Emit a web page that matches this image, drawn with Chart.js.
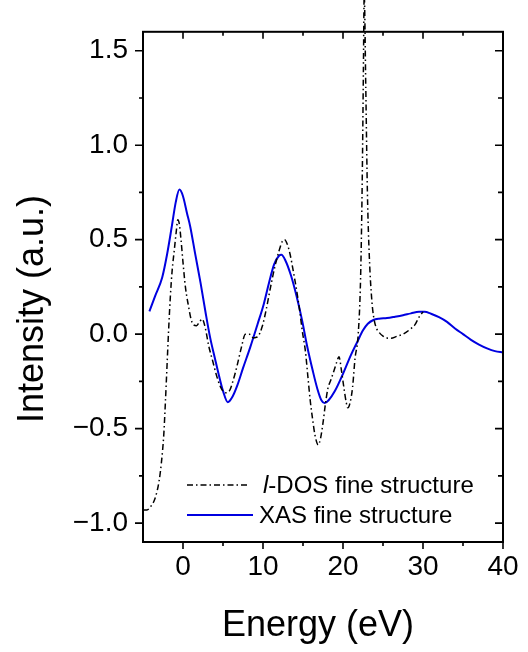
<!DOCTYPE html>
<html>
<head>
<meta charset="utf-8">
<script src="https://cdn.jsdelivr.net/npm/chart.js@4/dist/chart.umd.min.js"></script>
<style>
  html, body { margin: 0; padding: 0; background: #ffffff; }
  #wrap { width: 528px; height: 652px; }
</style>
</head>
<body>
<div id="wrap"><canvas id="c" width="528" height="652"></canvas></div>
<script>
// ---- data ----
const ldosX = [-5, -4.5, -4.0, -3.5, -3.0, -2.7, -2.4, -2.2, -2.0, -1.8, -1.58, -1.35, -1.1, -0.85, -0.65, -0.45, -0.25, 0.0, 0.3, 0.7, 1.0, 1.3, 1.7, 2.0, 2.4, 2.8, 3.2, 3.7, 4.2, 4.7, 5.3, 5.8, 6.3, 6.8, 7.3, 7.8, 8.3, 8.8, 9.3, 9.9, 10.4, 10.9, 11.5, 12.0, 12.4, 12.7, 13.0, 13.4, 13.8, 14.25, 14.6, 14.9, 15.3, 15.6, 15.9, 16.2, 16.5, 16.9, 17.2, 17.5, 17.8, 18.1, 18.5, 18.9, 19.2, 19.5, 19.8, 20.1, 20.4, 20.6, 20.9, 21.2, 21.5, 21.9, 22.2, 22.4, 22.55, 22.65, 22.85, 23.05, 23.3, 23.6, 23.8, 24.1, 24.5, 25.0, 25.5, 26.0, 26.75, 27.5, 28.4, 29.0, 29.5, 30.0];
const ldosY = [-0.93, -0.93, -0.91, -0.87, -0.78, -0.68, -0.53, -0.36, -0.17, 0.02, 0.20, 0.34, 0.44, 0.54, 0.605, 0.58, 0.50, 0.38, 0.25, 0.145, 0.08, 0.05, 0.045, 0.06, 0.08, 0.03, -0.06, -0.14, -0.22, -0.28, -0.31, -0.30, -0.24, -0.16, -0.07, 0.0, 0.0, -0.02, -0.015, 0.04, 0.13, 0.24, 0.36, 0.44, 0.49, 0.50, 0.48, 0.42, 0.33, 0.22, 0.12, 0.02, -0.09, -0.22, -0.35, -0.45, -0.535, -0.586, -0.55, -0.47, -0.37, -0.29, -0.24, -0.19, -0.15, -0.12, -0.19, -0.28, -0.36, -0.39, -0.36, -0.28, -0.13, 0.0, 0.30, 0.80, 1.40, 1.80, 1.30, 0.75, 0.40, 0.18, 0.10, 0.04, 0.01, -0.01, -0.02, -0.022, -0.011, 0.0, 0.026, 0.05, 0.09, 0.118];

const xasX = [-4.2, -3.5, -2.6, -2.0, -1.4, -0.9, -0.45, 0.0, 0.5, 0.9, 1.5, 2.2, 2.8, 3.4, 4.0, 4.5, 5.0, 5.6, 6.2, 6.8, 7.5, 8.4, 9.3, 10.1, 10.8, 11.4, 12.0, 12.3, 12.8, 13.5, 14.2, 14.9, 15.5, 16.2, 16.8, 17.3, 17.7, 18.2, 19.0, 20.0, 21.0, 21.8, 22.5, 23.1, 23.8, 24.5, 25.5, 26.5, 27.5, 28.5, 29.5, 30.2, 31.0, 32.0, 33.0, 34.0, 35.0, 36.0, 37.0, 38.0, 39.0, 40.0];
const xasY = [0.12, 0.20, 0.30, 0.42, 0.57, 0.70, 0.765, 0.73, 0.64, 0.57, 0.43, 0.27, 0.12, -0.02, -0.13, -0.22, -0.30, -0.36, -0.33, -0.27, -0.18, -0.07, 0.05, 0.16, 0.28, 0.37, 0.415, 0.42, 0.39, 0.31, 0.20, 0.07, -0.06, -0.19, -0.29, -0.35, -0.365, -0.35, -0.30, -0.21, -0.11, -0.04, 0.02, 0.055, 0.075, 0.082, 0.085, 0.092, 0.10, 0.11, 0.118, 0.118, 0.108, 0.09, 0.065, 0.03, 0.0, -0.03, -0.055, -0.075, -0.09, -0.097];

const xTickValues = [0, 10, 20, 30, 40];
const xMinorValues = [5, 15, 25, 35];
const yTickValues = [-1.0, -0.5, 0.0, 0.5, 1.0, 1.5];
const yMinorValues = [-0.75, -0.25, 0.25, 0.75, 1.25];
const seriesNames = ['-DOS fine structure', 'XAS fine structure'];
const xTitle = 'Energy (eV)';
const yTitle = 'Intensity (a.u.)';

const FONT = "'Liberation Sans', Arial, Helvetica, sans-serif";

function pts(xs, ys) { return xs.map((x, i) => ({ x: x, y: ys[i] })); }

const framePlugin = {
  id: 'frame',
  afterDraw(chart) {
    const ctx = chart.ctx;
    const a = chart.chartArea;
    const xs = chart.scales.x, ys = chart.scales.y;
    ctx.save();
    ctx.strokeStyle = '#000';
    ctx.lineWidth = 2;
    ctx.setLineDash([]);
    ctx.strokeRect(a.left, a.top, a.right - a.left, a.bottom - a.top);
    ctx.beginPath();
    ctx.lineWidth = 1.6;
    const majL = 7, minL = 4;
    xTickValues.forEach(v => {
      const p = xs.getPixelForValue(v);
      ctx.moveTo(p, a.bottom); ctx.lineTo(p, a.bottom + majL);
      ctx.moveTo(p, a.top); ctx.lineTo(p, a.top + majL);
    });
    xMinorValues.forEach(v => {
      const p = xs.getPixelForValue(v);
      ctx.moveTo(p, a.bottom); ctx.lineTo(p, a.bottom + minL);
      ctx.moveTo(p, a.top); ctx.lineTo(p, a.top + minL);
    });
    yTickValues.forEach(v => {
      const p = ys.getPixelForValue(v);
      ctx.moveTo(a.left, p); ctx.lineTo(a.left - majL - 1, p);
      ctx.moveTo(a.right, p); ctx.lineTo(a.right - majL - 1, p);
    });
    yMinorValues.forEach(v => {
      const p = ys.getPixelForValue(v);
      ctx.moveTo(a.left, p); ctx.lineTo(a.left - minL, p);
      ctx.moveTo(a.right, p); ctx.lineTo(a.right - minL - 1, p);
    });
    ctx.stroke();

    // axis titles
    ctx.fillStyle = '#000';
    ctx.font = '36px ' + FONT;
    ctx.textAlign = 'center';
    ctx.textBaseline = 'alphabetic';
    ctx.fillText(xTitle, 318, 636);
    ctx.save();
    ctx.translate(43, 309);
    ctx.rotate(-Math.PI / 2);
    ctx.fillText(yTitle, 0, 0);
    ctx.restore();

    // legend
    const lf = 24;
    ctx.textAlign = 'left';
    ctx.textBaseline = 'middle';
    ctx.strokeStyle = '#000';
    ctx.lineWidth = 1.5;
    ctx.setLineDash([6, 3, 1.5, 3]);
    ctx.beginPath(); ctx.moveTo(187, 485); ctx.lineTo(250, 485); ctx.stroke();
    ctx.setLineDash([]);
    ctx.font = 'italic ' + lf + 'px ' + FONT;
    ctx.fillText('l', 263, 486);
    const lw = ctx.measureText('l').width;
    ctx.font = lf + 'px ' + FONT;
    ctx.fillText(seriesNames[0], 263 + lw, 486);
    ctx.strokeStyle = '#0000e0';
    ctx.lineWidth = 2;
    ctx.beginPath(); ctx.moveTo(187, 515); ctx.lineTo(253, 515); ctx.stroke();
    ctx.fillText(seriesNames[1], 259, 516);
    ctx.restore();
  }
};

new Chart(document.getElementById('c'), {
  type: 'line',
  data: {
    datasets: [
      {
        label: 'l' + seriesNames[0],
        data: pts(ldosX, ldosY),
        borderColor: '#000000',
        borderWidth: 1.5,
        borderDash: [6, 3, 1.5, 3],
        pointRadius: 0,
        fill: false,
        cubicInterpolationMode: 'monotone',
        clip: false
      },
      {
        label: seriesNames[1],
        data: pts(xasX, xasY),
        borderColor: '#0000e0',
        borderWidth: 2,
        pointRadius: 0,
        fill: false,
        cubicInterpolationMode: 'monotone',
        clip: false
      }
    ]
  },
  options: {
    responsive: false,
    devicePixelRatio: 1,
    animation: false,
    layout: { padding: { top: 13, right: 25, left: 0, bottom: 0 } },
    plugins: { legend: { display: false }, tooltip: { enabled: false } },
    scales: {
      x: {
        type: 'linear',
        position: 'bottom',
        min: -5, max: 40,
        grid: { display: false, drawTicks: false },
        border: { display: false },
        afterBuildTicks: s => { s.ticks = xTickValues.map(v => ({ value: v })); },
        afterFit: s => { s.height = 110; },
        ticks: {
          color: '#000', padding: 8,
          font: { family: FONT, size: 28 },
          maxRotation: 0,
          callback: v => String(v)
        }
      },
      y: {
        type: 'linear',
        position: 'left',
        min: -1.1, max: 1.6,
        grid: { display: false, drawTicks: false },
        border: { display: false },
        afterBuildTicks: s => { s.ticks = yTickValues.map(v => ({ value: v })); },
        afterFit: s => { s.width = 143; },
        ticks: {
          color: '#000', padding: 15,
          font: { family: FONT, size: 28 },
          callback: v => Number(v).toFixed(1).replace('-', '\u2212')
        }
      }
    }
  },
  plugins: [framePlugin]
});
</script>
</body>
</html>
